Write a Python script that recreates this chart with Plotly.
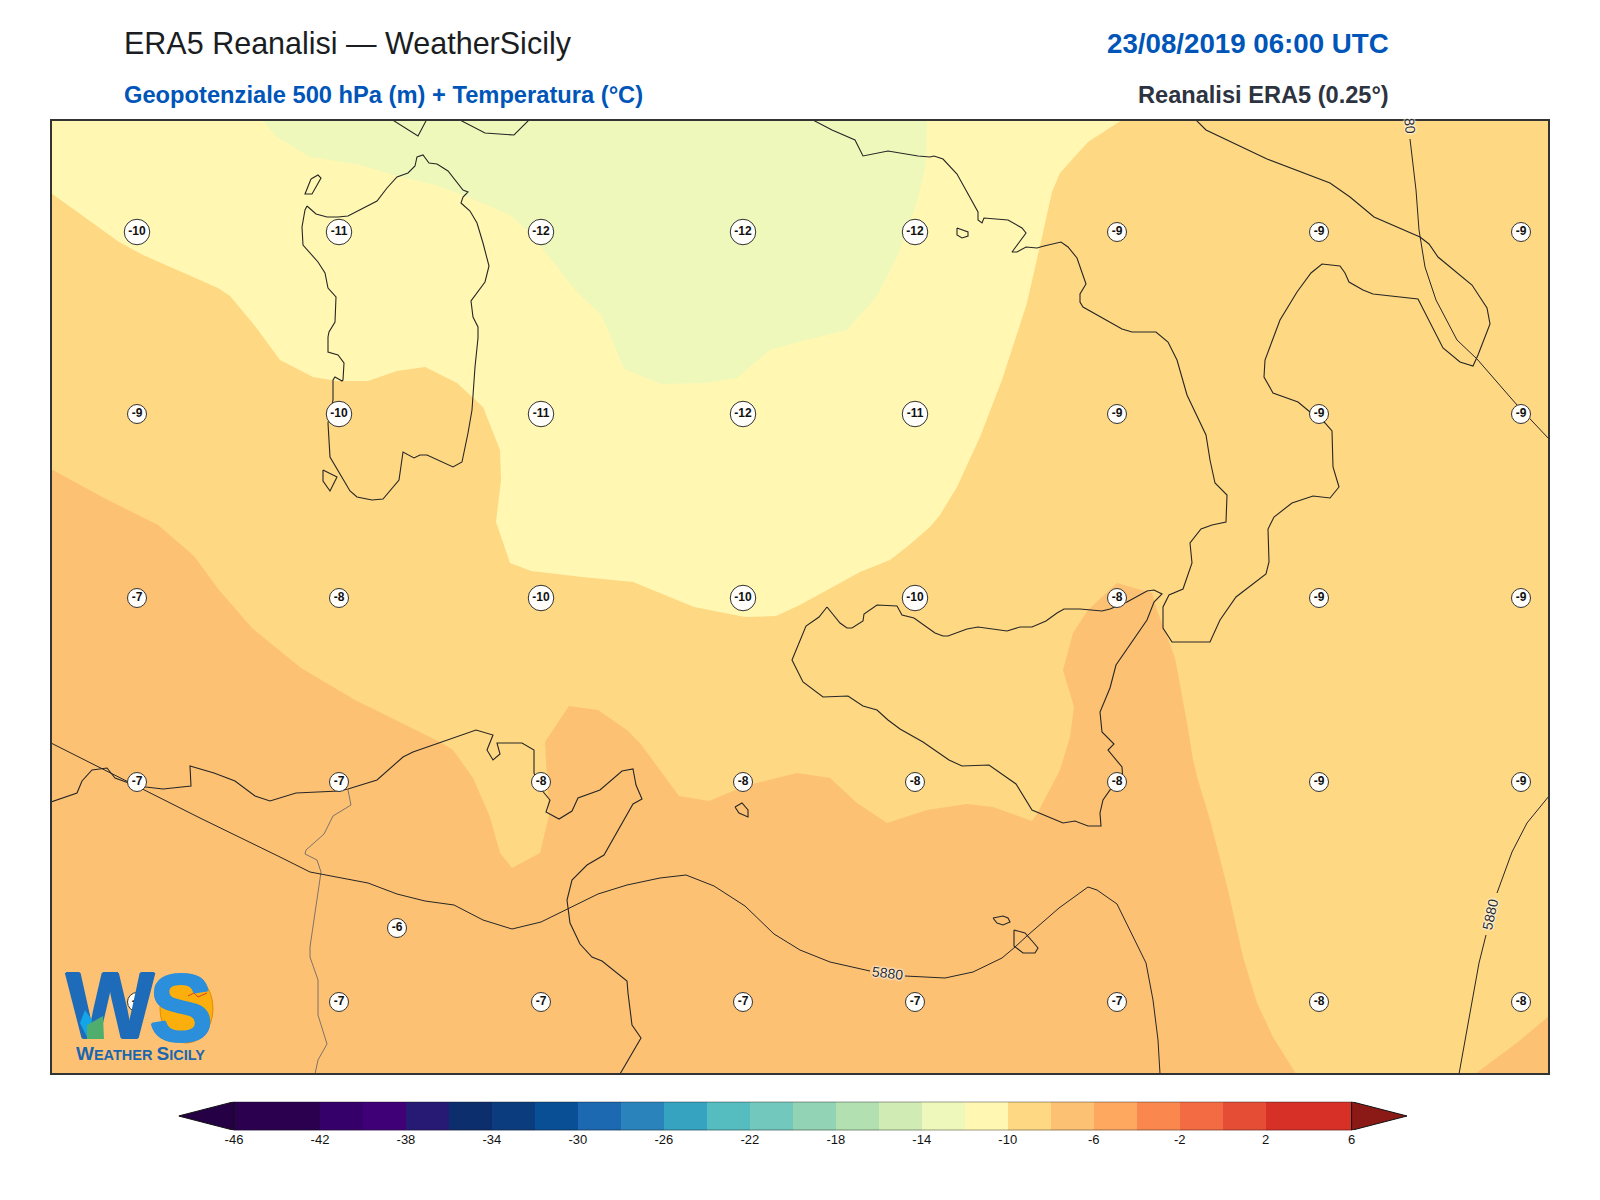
import plotly.graph_objects as go

# ---- map outlines and filled temperature bands, in map units ----
band_8_6 = [(52,120),(1548,120),(1548,1073),(52,1073),(52,120)]
band_10_8 = [(51,469),(102,497),(158,525),(194,556),(219,590),(252,628),(301,668),(355,700),(440,742),(453,750),(473,778),(490,817),(500,853),(512,868),(540,853),(549,815),(545,742),(569,706),(598,710),(627,730),(640,743),(660,770),(679,796),(709,801),(745,786),(797,773),(830,778),(857,803),(887,823),(927,810),(967,804),(993,807),(1032,821),(1038,812),(1060,770),(1070,737),(1074,707),(1063,670),(1073,633),(1088,610),(1117,583),(1152,593),(1157,610),(1175,658),(1187,723),(1193,760),(1198,780),(1210,820),(1228,890),(1243,957),(1257,1003),(1273,1037),(1296,1074),(1475,1074),(1518,1042),(1549,1016),(1549,119),(51,119)]
band_12_10 = [(51,193),(88,220),(119,242),(143,255),(218,288),(230,296),(255,326),(280,360),(313,377),(337,381),(368,381),(397,371),(425,367),(457,383),(483,407),(500,450),(501,480),(496,522),(510,563),(531,571),(582,577),(633,582),(694,607),(745,617),(776,616),(800,605),(827,590),(860,572),(890,560),(908,546),(930,527),(940,515),(957,487),(980,437),(1002,380),(1027,303),(1042,237),(1052,192),(1060,173),(1088,142),(1122,120),(1122,119),(51,119)]
band_14_12 = [(261,119),(277,137),(310,157),(360,165),(397,176),(435,185),(468,197),(510,215),(530,233),(551,260),(576,291),(602,316),(624,369),(661,384),(704,383),(737,378),(770,350),(806,340),(847,330),(877,296),(898,255),(918,199),(926,163),(927,119)]

sardinia = [(307,206),(316,214),(327,217),(338,217),(348,216),(363,208),(377,201),(387,188),(397,177),(408,173),(415,166),(417,157),(423,155),(429,163),(437,164),(448,171),(457,182),(463,190),(468,192),(463,197),(461,203),(470,211),(477,223),(483,243),(489,266),(485,282),(471,301),(473,317),(478,327),(478,338),(475,367),(472,410),(468,433),(462,462),(453,467),(437,460),(427,455),(420,455),(414,458),(403,452),(399,480),(383,499),(372,500),(357,497),(350,491),(330,457),(328,423),(333,400),(333,380),(335,377),(342,381),(343,380),(344,363),(338,355),(328,352),(328,337),(329,332),(335,322),(336,297),(328,288),(325,273),(318,262),(303,245),(302,227),(305,210),(307,206)]
asinara = [(311,179),(318,175),(321,178),(312,194),(305,194),(311,179)]
antioco = [(323,470),(337,477),(330,491),(323,481),(323,470)]
corsica_a = [(391,119),(418,136),(427,119)]
corsica_b = [(458,119),(485,133),(514,135),(530,119)]
ischia = [(957,228),(968,232),(968,236),(962,238),(957,235),(957,228)]
italy_west = [(811,119),(832,130),(855,140),(863,156),(888,151),(918,156),(930,157),(934,156),(943,159),(957,174),(978,212),(978,220),(982,223),(984,218),(1008,220),(1022,228),(1026,233),(1012,252),(1017,252),(1026,247),(1037,248),(1044,246),(1061,242),(1068,247),(1077,258),(1086,284),(1080,294),(1080,302),(1083,307),(1122,329),(1132,332),(1156,332),(1168,342),(1177,360),(1187,395),(1206,435),(1210,460),(1215,483),(1227,495),(1226,522),(1212,525),(1201,529),(1190,543),(1192,563),(1183,589),(1169,595),(1163,607),(1163,628),(1172,642),(1210,642),(1220,620),(1236,597),(1266,574),(1269,562),(1268,529),(1274,517),(1292,503),(1313,496),(1330,498),(1339,487),(1333,467),(1332,431),(1325,423),(1310,412),(1298,402),(1273,393),(1264,377),(1265,360),(1280,320),(1297,292),(1311,273),(1322,264),(1340,266),(1345,273),(1349,282),(1363,290),(1373,294),(1418,299),(1443,348),(1460,362),(1473,366),(1478,355),(1490,324),(1487,308),(1472,285),(1438,257),(1429,244),(1420,237),(1374,217),(1350,197),(1330,183),(1267,159),(1206,130),(1195,119)]
sicily = [(827,607),(840,623),(847,628),(852,628),(863,621),(864,614),(877,605),(897,606),(902,615),(914,618),(935,633),(943,636),(948,636),(967,629),(978,627),(1007,631),(1020,627),(1032,627),(1046,621),(1057,613),(1064,609),(1080,609),(1102,611),(1110,609),(1127,602),(1147,591),(1154,590),(1162,594),(1154,602),(1147,620),(1116,665),(1110,688),(1100,712),(1102,732),(1114,744),(1108,750),(1122,767),(1123,782),(1110,790),(1103,800),(1100,813),(1101,826),(1088,826),(1075,821),(1063,823),(1045,815),(1032,810),(1016,784),(989,765),(962,766),(949,760),(923,742),(900,729),(888,720),(877,710),(863,706),(848,696),(823,697),(803,682),(792,660),(806,626),(819,617),(827,607)]
africa = [(51,802),(65,797),(77,793),(82,781),(92,770),(107,768),(115,778),(137,786),(163,789),(191,786),(190,766),(214,773),(235,781),(255,796),(270,801),(296,793),(339,791),(348,789),(377,780),(403,757),(413,752),(476,730),(493,735),(487,750),(493,760),(500,754),(497,743),(522,743),(534,750),(534,773),(540,788),(550,800),(546,812),(559,819),(572,811),(578,798),(600,790),(622,771),(633,769),(636,785),(642,799),(633,804),(604,855),(587,865),(572,880),(567,900),(570,923),(580,944),(592,957),(602,961),(627,981),(628,993),(632,1025),(641,1038),(628,1060),(620,1074)]
gozo = [(993,918),(1003,916),(1008,918),(1010,922),(1003,925),(997,923),(993,918)]
malta = [(1014,930),(1025,933),(1033,942),(1038,948),(1035,953),(1023,953),(1014,946),(1014,930)]
pantelleria = [(735,807),(742,803),(748,810),(748,817),(739,813),(735,807)]
border = [(348,790),(351,805),(333,816),(324,834),(306,850),(305,854),(317,860),(321,872),(310,947),(310,957),(318,980),(318,1015),(327,1044),(318,1060),(315,1074)]

z5880_a = [(1410,139),(1416,190),(1419,230),(1425,267),(1436,300),(1457,340),(1477,359),(1517,405),(1549,439)]
z5880_b = [(51,743),(120,778),(200,818),(280,857),(310,872),(368,883),(397,894),(425,901),(454,905),(483,920),(512,929),(541,922),(568,909),(598,894),(627,885),(660,878),(686,875),(714,886),(745,906),(774,934),(800,950),(830,962),(870,971),None,(905,976),(945,978),(973,972),(1002,958),(1015,947),(1028,935),(1059,908),(1088,887),(1097,890),(1117,904),(1146,963),(1153,1000),(1158,1040),(1160,1074)]
z5880_c = [(1459,1074),(1479,963),(1486,935),None,(1497,893),(1512,852),(1527,823),(1549,796)]
contour_label = "5880"

# ---- station temperatures ----
grid_x = [137, 339, 541, 743, 915, 1117, 1319, 1521]
grid_y = [232, 414, 598, 782, 1002]
grid_t = [
    [-10, -11, -12, -12, -12, -9, -9, -9],
    [-9, -10, -11, -12, -11, -9, -9, -9],
    [-7, -8, -10, -10, -10, -8, -9, -9],
    [-7, -7, -8, -8, -8, -8, -9, -9],
    [-7, -7, -7, -7, -7, -7, -8, -8],
]
extra_x = [397]
extra_y = [928]
extra_t = [-6]

# ---- colour scale ----
cb_edges = list(range(-46, 8, 2))
cb_colors = ["#2a004f","#2a004f","#35006a","#3f0077","#261a75","#0d2e6c","#0b3d7e","#084f96","#1c68b1","#2b83bb","#36a3c0","#55bcc0","#72c8bd","#92d3b5","#b2e0b0","#d0ecb4","#eff8bb","#fff7b2","#fed883","#fdc174","#fda75f","#f9874e","#f36b43","#e54e35","#d73027","#d73027"]
cb_ticks = list(range(-46, 8, 4))
cb_under = "#260044"
cb_over = "#8b1a16"

W, H = 1600, 1200
X0, X1, Y0, Y1 = 52, 1548, 120.5, 1073


def xs(p):
    return [q[0] if q else None for q in p]


def ys(p):
    return [q[1] if q else None for q in p]


fig = go.Figure()

for poly, col in [(band_8_6, "#fdc174"), (band_10_8, "#fed883"), (band_12_10, "#fff7b2"), (band_14_12, "#eff8bb")]:
    fig.add_trace(go.Scatter(x=xs(poly), y=ys(poly), mode="lines", fill="toself", fillcolor=col,
                             line=dict(width=0), hoverinfo="skip"))

for p in [sardinia, asinara, antioco, corsica_a, corsica_b, ischia, italy_west, sicily, africa, gozo, malta, pantelleria]:
    fig.add_trace(go.Scatter(x=xs(p), y=ys(p), mode="lines", line=dict(color="#262626", width=1.1), hoverinfo="skip"))
fig.add_trace(go.Scatter(x=xs(border), y=ys(border), mode="lines", line=dict(color="#7d7468", width=1), hoverinfo="skip"))
for p in [z5880_a, z5880_b, z5880_c]:
    fig.add_trace(go.Scatter(x=xs(p), y=ys(p), mode="lines", line=dict(color="#262626", width=1), connectgaps=False, hoverinfo="skip"))

mx, my, mt = [], [], []
for j, row in enumerate(grid_t):
    for i, v in enumerate(row):
        mx.append(grid_x[i]); my.append(grid_y[j]); mt.append(v)
mx += extra_x; my += extra_y; mt += extra_t
fig.add_trace(go.Scatter(
    x=mx, y=my, mode="markers+text", text=[str(v) for v in mt], textposition="middle center",
    textfont=dict(family="Liberation Sans", size=12, color="#111111", weight="bold"),
    marker=dict(size=[25.5 if abs(v) >= 10 else 19 for v in mt], color="#fffefb", opacity=1,
                line=dict(color="#333333", width=1)),
    cliponaxis=True, hoverinfo="skip"))


def fat(c):
    return f"1px 0 0 {c}, -1px 0 0 {c}, 0 1px 0 {c}, 0 -1px 0 {c}"


# logo W (real text, above the hidden station)
fig.add_trace(go.Scatter(x=[110], y=[1014], mode="text", text=["W"], textposition="middle center",
                         textfont=dict(family="Liberation Sans", size=94, color="#1e6cb9", weight="bold",
                                       shadow=fat("#1e6cb9")), hoverinfo="skip"))

# colour bar
centers = [e + 1 for e in cb_edges[:-1]]
fig.add_trace(go.Bar(x=centers, y=[1] * len(centers), width=2, marker=dict(color=cb_colors, line=dict(width=0)),
                     xaxis="x2", yaxis="y2", hoverinfo="skip"))
tri = 55.4 / (1117.7 / 52)
fig.add_trace(go.Scatter(x=[-46, -46 - tri, -46, -46], y=[0, .5, 1, 0], mode="lines", fill="toself", fillcolor=cb_under,
                         line=dict(color="#111111", width=1), xaxis="x2", yaxis="y2", hoverinfo="skip"))
fig.add_trace(go.Scatter(x=[6, 6 + tri, 6, 6], y=[0, .5, 1, 0], mode="lines", fill="toself", fillcolor=cb_over,
                         line=dict(color="#111111", width=1), xaxis="x2", yaxis="y2", hoverinfo="skip"))
fig.add_trace(go.Scatter(x=[-46, 6, None, -46, 6], y=[1, 1, None, 0, 0], mode="lines",
                         line=dict(color="#111111", width=1), xaxis="x2", yaxis="y2", hoverinfo="skip"))


def ann(text, x, y, size, color, anchor="left", bold=False):
    return dict(text=f"<b>{text}</b>" if bold else text, x=x / W, y=1 - y / H, xref="paper", yref="paper",
                xanchor=anchor, yanchor="middle", showarrow=False,
                font=dict(family="Liberation Sans", size=size, color=color))


halo = "0 0 2px #ffffff, 0 0 2px #ffffff, 0 0 3px #ffffff"
annotations = [
    ann("ERA5 Reanalisi — WeatherSicily", 122, 44, 30.5, "#1a1d21"),
    ann("Geopotenziale 500 hPa (m) + Temperatura (°C)", 122, 95, 23.7, "#0055b8", bold=True),
    ann("23/08/2019 06:00 UTC", 1391, 44, 27.7, "#0055b8", "right", True),
    ann("Reanalisi ERA5 (0.25°)", 1391, 95, 23.6, "#2d3340", "right", True),
    dict(text=contour_label, x=887, y=973, xref="x", yref="y", showarrow=False, textangle=7,
         font=dict(family="Liberation Sans", size=14, color="#2a2a2a", shadow=halo)),
    dict(text=contour_label, x=1490, y=915, xref="x", yref="y", showarrow=False, textangle=-78,
         font=dict(family="Liberation Sans", size=14, color="#2a2a2a", shadow=halo)),
    dict(text=contour_label[2:], x=1410, y=126, xref="x", yref="y", showarrow=False, textangle=85,
         font=dict(family="Liberation Sans", size=14, color="#2a2a2a", shadow=halo)),
    dict(text="S", x=181, y=1007, xref="x", yref="y", showarrow=False,
         font=dict(family="Liberation Sans", size=96, color="#2b8fdc", weight="bold", shadow=fat("#2b8fdc"))),
    dict(text="W<span style='font-size:14.5px'>EATHER </span>S<span style='font-size:14.5px'>ICILY</span>",
         x=140.5, y=1053, xref="x", yref="y", showarrow=False,
         font=dict(family="Liberation Sans", size=19, color="#1a66b0", weight="bold")),
]

shapes = [
    dict(type="circle", xref="x", yref="y", x0=160, x1=213, y0=974, y1=1043, layer="above",
         fillcolor="#fbae0c", line=dict(color="#e58a06", width=1)),
    dict(type="path", xref="x", yref="y", path="M 188 996 L 194 993 L 198 997 L 207 993", layer="above",
         line=dict(color="#d8412a", width=1)),
    dict(type="path", xref="x", yref="y", path="M 80 1023 L 85 1010 L 92 1020 L 88 1039 Z", layer="above",
         fillcolor="#12a5e8", line=dict(width=0)),
    dict(type="path", xref="x", yref="y", path="M 87 1039 L 87 1025 L 103 1016 L 104 1039 Z", layer="above",
         fillcolor="#4fae6e", line=dict(width=0)),
]

fig.update_layout(
    width=W, height=H, autosize=False, margin=dict(l=0, r=0, t=0, b=0),
    paper_bgcolor="#ffffff", plot_bgcolor="#ffffff", showlegend=False, bargap=0,
    annotations=annotations, shapes=shapes,
    xaxis=dict(domain=[X0 / W, X1 / W], range=[X0, X1], showgrid=False, zeroline=False, showticklabels=False,
               ticks="", showline=True, mirror=True, linecolor="#333333", linewidth=2),
    yaxis=dict(domain=[1 - Y1 / H, 1 - Y0 / H], range=[Y1, Y0], showgrid=False, zeroline=False, showticklabels=False,
               ticks="", showline=True, mirror=True, linecolor="#333333", linewidth=2),
    xaxis2=dict(domain=[178.6 / W, 1407 / W], range=[-46 - tri, 6 + tri], anchor="y2", showgrid=False, zeroline=False,
                tickvals=cb_ticks, ticktext=[str(t) for t in cb_ticks], ticks="", showline=False,
                tickfont=dict(family="Liberation Sans", size=13, color="#111111")),
    yaxis2=dict(domain=[1 - 1130.3 / H, 1 - 1101.7 / H], range=[0, 1], anchor="x2", showgrid=False, zeroline=False,
                showticklabels=False, ticks="", showline=False),
)

fig.write_html("out.html", config={"displayModeBar": False},
               post_script="document.body.style.margin='0';document.body.style.overflow='hidden';")
